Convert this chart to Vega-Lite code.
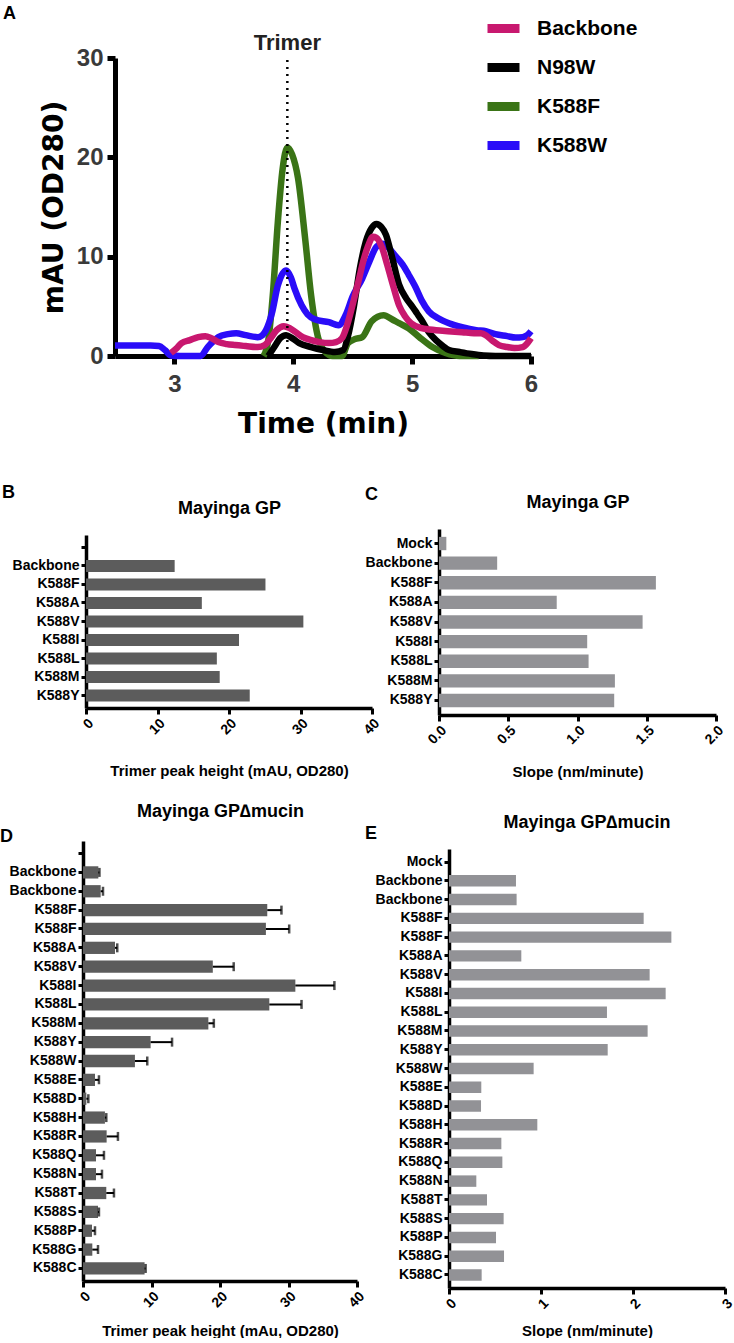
{
  "$schema": "https://vega.github.io/schema/vega-lite/v6.json",
  "background": "white",
  "padding": {"left": 0, "top": 4, "right": 0, "bottom": 0},
  "autosize": {"type": "pad", "resize": false},
  "config": {
    "font": "Liberation Sans",
    "view": {"stroke": null},
    "axis": {"grid": false, "domainColor": "black", "tickColor": "black", "labelColor": "black", "titleColor": "black", "labelFontWeight": "bold", "titleFontWeight": "bold", "labelFont": "Liberation Sans", "titleFont": "Liberation Sans", "labelOverlap": false},
    "title": {"font": "Liberation Sans", "fontWeight": "bold", "color": "black"},
    "legend": {"labelFont": "Liberation Sans"}
  },
  "datasets": {
    "chrom": [
      {"sample": "K588F", "t": 3.75, "v": 0}, {"sample": "K588F", "t": 3.79, "v": 1.6}, {"sample": "K588F", "t": 3.83, "v": 6.5}, {"sample": "K588F", "t": 3.87, "v": 13.5}, {"sample": "K588F", "t": 3.91, "v": 18.8}, {"sample": "K588F", "t": 3.95, "v": 21.0}, {"sample": "K588F", "t": 3.99, "v": 20.3}, {"sample": "K588F", "t": 4.04, "v": 17.9}, {"sample": "K588F", "t": 4.10, "v": 11.8}, {"sample": "K588F", "t": 4.15, "v": 6.1}, {"sample": "K588F", "t": 4.21, "v": 1.8}, {"sample": "K588F", "t": 4.27, "v": 0.4}, {"sample": "K588F", "t": 4.33, "v": 0}, {"sample": "K588F", "t": 4.41, "v": 0}, {"sample": "K588F", "t": 4.46, "v": 1.3}, {"sample": "K588F", "t": 4.52, "v": 1.7}, {"sample": "K588F", "t": 4.58, "v": 1.9}, {"sample": "K588F", "t": 4.66, "v": 3.5}, {"sample": "K588F", "t": 4.76, "v": 4.1}, {"sample": "K588F", "t": 4.83, "v": 3.7}, {"sample": "K588F", "t": 4.89, "v": 3.3}, {"sample": "K588F", "t": 4.97, "v": 2.8}, {"sample": "K588F", "t": 5.06, "v": 1.9}, {"sample": "K588F", "t": 5.17, "v": 0.9}, {"sample": "K588F", "t": 5.28, "v": 0.3}, {"sample": "K588F", "t": 5.4, "v": 0}, {"sample": "K588F", "t": 5.56, "v": 0},
      {"sample": "K588W", "t": 2.5, "v": 1.05}, {"sample": "K588W", "t": 2.6, "v": 1.05}, {"sample": "K588W", "t": 2.7, "v": 1.05}, {"sample": "K588W", "t": 2.8, "v": 1.05}, {"sample": "K588W", "t": 2.87, "v": 1.0}, {"sample": "K588W", "t": 2.92, "v": 0.6}, {"sample": "K588W", "t": 2.97, "v": 0.05}, {"sample": "K588W", "t": 3.05, "v": 0}, {"sample": "K588W", "t": 3.15, "v": 0}, {"sample": "K588W", "t": 3.22, "v": 0}, {"sample": "K588W", "t": 3.28, "v": 0.9}, {"sample": "K588W", "t": 3.37, "v": 1.9}, {"sample": "K588W", "t": 3.45, "v": 2.2}, {"sample": "K588W", "t": 3.52, "v": 2.3}, {"sample": "K588W", "t": 3.6, "v": 2.1}, {"sample": "K588W", "t": 3.7, "v": 1.9}, {"sample": "K588W", "t": 3.74, "v": 2.1}, {"sample": "K588W", "t": 3.77, "v": 2.6}, {"sample": "K588W", "t": 3.82, "v": 4.3}, {"sample": "K588W", "t": 3.87, "v": 7.1}, {"sample": "K588W", "t": 3.94, "v": 8.6}, {"sample": "K588W", "t": 3.98, "v": 7.9}, {"sample": "K588W", "t": 4.01, "v": 6.8}, {"sample": "K588W", "t": 4.07, "v": 5.1}, {"sample": "K588W", "t": 4.12, "v": 4.2}, {"sample": "K588W", "t": 4.18, "v": 3.7}, {"sample": "K588W", "t": 4.3, "v": 3.4}, {"sample": "K588W", "t": 4.38, "v": 3.1}, {"sample": "K588W", "t": 4.44, "v": 4.1}, {"sample": "K588W", "t": 4.5, "v": 6.0}, {"sample": "K588W", "t": 4.58, "v": 7.8}, {"sample": "K588W", "t": 4.64, "v": 9.5}, {"sample": "K588W", "t": 4.7, "v": 11.0}, {"sample": "K588W", "t": 4.75, "v": 11.3}, {"sample": "K588W", "t": 4.8, "v": 10.9}, {"sample": "K588W", "t": 4.85, "v": 10.2}, {"sample": "K588W", "t": 4.92, "v": 9.2}, {"sample": "K588W", "t": 4.97, "v": 8.2}, {"sample": "K588W", "t": 5.03, "v": 6.9}, {"sample": "K588W", "t": 5.08, "v": 5.6}, {"sample": "K588W", "t": 5.14, "v": 4.5}, {"sample": "K588W", "t": 5.22, "v": 3.8}, {"sample": "K588W", "t": 5.31, "v": 3.3}, {"sample": "K588W", "t": 5.42, "v": 2.9}, {"sample": "K588W", "t": 5.54, "v": 2.6}, {"sample": "K588W", "t": 5.62, "v": 2.5}, {"sample": "K588W", "t": 5.7, "v": 2.2}, {"sample": "K588W", "t": 5.8, "v": 2.0}, {"sample": "K588W", "t": 5.87, "v": 1.85}, {"sample": "K588W", "t": 5.93, "v": 1.9}, {"sample": "K588W", "t": 5.97, "v": 2.1}, {"sample": "K588W", "t": 6.0, "v": 2.5},
      {"sample": "N98W", "t": 3.79, "v": 0}, {"sample": "N98W", "t": 3.84, "v": 0.9}, {"sample": "N98W", "t": 3.89, "v": 1.8}, {"sample": "N98W", "t": 3.94, "v": 2.1}, {"sample": "N98W", "t": 3.99, "v": 1.8}, {"sample": "N98W", "t": 4.05, "v": 1.3}, {"sample": "N98W", "t": 4.15, "v": 0.9}, {"sample": "N98W", "t": 4.25, "v": 0.6}, {"sample": "N98W", "t": 4.35, "v": 0.4}, {"sample": "N98W", "t": 4.42, "v": 0.6}, {"sample": "N98W", "t": 4.46, "v": 2.0}, {"sample": "N98W", "t": 4.51, "v": 5.0}, {"sample": "N98W", "t": 4.56, "v": 8.8}, {"sample": "N98W", "t": 4.61, "v": 11.5}, {"sample": "N98W", "t": 4.66, "v": 12.9}, {"sample": "N98W", "t": 4.7, "v": 13.3}, {"sample": "N98W", "t": 4.74, "v": 13.0}, {"sample": "N98W", "t": 4.78, "v": 12.2}, {"sample": "N98W", "t": 4.83, "v": 10.0}, {"sample": "N98W", "t": 4.89, "v": 7.2}, {"sample": "N98W", "t": 4.95, "v": 5.8}, {"sample": "N98W", "t": 5.0, "v": 5.0}, {"sample": "N98W", "t": 5.04, "v": 4.3}, {"sample": "N98W", "t": 5.08, "v": 3.6}, {"sample": "N98W", "t": 5.14, "v": 2.4}, {"sample": "N98W", "t": 5.2, "v": 1.6}, {"sample": "N98W", "t": 5.26, "v": 1.0}, {"sample": "N98W", "t": 5.31, "v": 0.6}, {"sample": "N98W", "t": 5.4, "v": 0.4}, {"sample": "N98W", "t": 5.5, "v": 0.2}, {"sample": "N98W", "t": 5.6, "v": 0.05}, {"sample": "N98W", "t": 5.7, "v": 0}, {"sample": "N98W", "t": 5.85, "v": 0}, {"sample": "N98W", "t": 6.0, "v": 0},
      {"sample": "Backbone", "t": 2.97, "v": 0.3}, {"sample": "Backbone", "t": 3.02, "v": 0.8}, {"sample": "Backbone", "t": 3.06, "v": 1.3}, {"sample": "Backbone", "t": 3.13, "v": 1.6}, {"sample": "Backbone", "t": 3.2, "v": 1.9}, {"sample": "Backbone", "t": 3.26, "v": 2.0}, {"sample": "Backbone", "t": 3.31, "v": 1.8}, {"sample": "Backbone", "t": 3.37, "v": 1.4}, {"sample": "Backbone", "t": 3.44, "v": 1.2}, {"sample": "Backbone", "t": 3.51, "v": 1.1}, {"sample": "Backbone", "t": 3.6, "v": 1.0}, {"sample": "Backbone", "t": 3.7, "v": 0.9}, {"sample": "Backbone", "t": 3.76, "v": 1.1}, {"sample": "Backbone", "t": 3.81, "v": 1.8}, {"sample": "Backbone", "t": 3.86, "v": 2.6}, {"sample": "Backbone", "t": 3.92, "v": 3.0}, {"sample": "Backbone", "t": 3.97, "v": 2.8}, {"sample": "Backbone", "t": 4.02, "v": 2.4}, {"sample": "Backbone", "t": 4.08, "v": 1.9}, {"sample": "Backbone", "t": 4.15, "v": 1.6}, {"sample": "Backbone", "t": 4.22, "v": 1.4}, {"sample": "Backbone", "t": 4.3, "v": 1.3}, {"sample": "Backbone", "t": 4.36, "v": 1.4}, {"sample": "Backbone", "t": 4.41, "v": 1.8}, {"sample": "Backbone", "t": 4.45, "v": 3.0}, {"sample": "Backbone", "t": 4.5, "v": 5.2}, {"sample": "Backbone", "t": 4.55, "v": 7.6}, {"sample": "Backbone", "t": 4.59, "v": 9.6}, {"sample": "Backbone", "t": 4.63, "v": 11.1}, {"sample": "Backbone", "t": 4.67, "v": 12.0}, {"sample": "Backbone", "t": 4.7, "v": 11.9}, {"sample": "Backbone", "t": 4.75, "v": 10.8}, {"sample": "Backbone", "t": 4.79, "v": 9.2}, {"sample": "Backbone", "t": 4.83, "v": 7.5}, {"sample": "Backbone", "t": 4.89, "v": 5.1}, {"sample": "Backbone", "t": 4.94, "v": 4.0}, {"sample": "Backbone", "t": 4.99, "v": 3.3}, {"sample": "Backbone", "t": 5.08, "v": 2.8}, {"sample": "Backbone", "t": 5.2, "v": 2.6}, {"sample": "Backbone", "t": 5.3, "v": 2.5}, {"sample": "Backbone", "t": 5.42, "v": 2.4}, {"sample": "Backbone", "t": 5.52, "v": 2.3}, {"sample": "Backbone", "t": 5.58, "v": 2.3}, {"sample": "Backbone", "t": 5.63, "v": 2.0}, {"sample": "Backbone", "t": 5.68, "v": 1.5}, {"sample": "Backbone", "t": 5.73, "v": 1.1}, {"sample": "Backbone", "t": 5.8, "v": 0.9}, {"sample": "Backbone", "t": 5.86, "v": 0.8}, {"sample": "Backbone", "t": 5.93, "v": 0.9}, {"sample": "Backbone", "t": 5.97, "v": 1.3}, {"sample": "Backbone", "t": 6.0, "v": 1.8}
    ],
    "panelB": [
      {"id": "01|Backbone", "v": 12.4}, {"id": "02|K588F", "v": 25.1}, {"id": "03|K588A", "v": 16.2}, {"id": "04|K588V", "v": 30.4},
      {"id": "05|K588I", "v": 21.4}, {"id": "06|K588L", "v": 18.3}, {"id": "07|K588M", "v": 18.7}, {"id": "08|K588Y", "v": 22.9}
    ],
    "panelC": [
      {"id": "00|Mock", "v": 0.053}, {"id": "01|Backbone", "v": 0.42}, {"id": "02|K588F", "v": 1.566}, {"id": "03|K588A", "v": 0.85}, {"id": "04|K588V", "v": 1.47},
      {"id": "05|K588I", "v": 1.07}, {"id": "06|K588L", "v": 1.08}, {"id": "07|K588M", "v": 1.27}, {"id": "08|K588Y", "v": 1.265}
    ],
    "panelD": [
      {"id": "01|Backbone", "v": 2.24, "upper": 2.4}, {"id": "02|Backbone", "v": 2.58, "upper": 2.92}, {"id": "03|K588F", "v": 26.9, "upper": 28.97}, {"id": "04|K588F", "v": 26.7, "upper": 30.1},
      {"id": "05|K588A", "v": 4.67, "upper": 5.0}, {"id": "06|K588V", "v": 18.95, "upper": 22.0}, {"id": "07|K588I", "v": 31.0, "upper": 36.7}, {"id": "08|K588L", "v": 27.2, "upper": 31.9},
      {"id": "09|K588M", "v": 18.3, "upper": 19.1}, {"id": "10|K588Y", "v": 9.87, "upper": 13.0}, {"id": "11|K588W", "v": 7.58, "upper": 9.38}, {"id": "12|K588E", "v": 1.75, "upper": 2.33},
      {"id": "13|K588D", "v": 0.49, "upper": 0.78}, {"id": "14|K588H", "v": 3.2, "upper": 3.4}, {"id": "15|K588R", "v": 3.45, "upper": 5.1}, {"id": "16|K588Q", "v": 1.9, "upper": 3.06},
      {"id": "17|K588N", "v": 1.9, "upper": 2.77}, {"id": "18|K588T", "v": 3.4, "upper": 4.52}, {"id": "19|K588S", "v": 2.19, "upper": 2.33}, {"id": "20|K588P", "v": 1.31, "upper": 1.75},
      {"id": "21|K588G", "v": 1.36, "upper": 2.19}, {"id": "22|K588C", "v": 8.99, "upper": 9.14}
    ],
    "panelE": [
      {"id": "00|Mock", "v": 0}, {"id": "01|Backbone", "v": 0.728}, {"id": "02|Backbone", "v": 0.735}, {"id": "03|K588F", "v": 2.116}, {"id": "04|K588F", "v": 2.417},
      {"id": "05|K588A", "v": 0.786}, {"id": "06|K588V", "v": 2.181}, {"id": "07|K588I", "v": 2.355}, {"id": "08|K588L", "v": 1.717}, {"id": "09|K588M", "v": 2.159},
      {"id": "10|K588Y", "v": 1.725}, {"id": "11|K588W", "v": 0.92}, {"id": "12|K588E", "v": 0.351}, {"id": "13|K588D", "v": 0.348}, {"id": "14|K588H", "v": 0.96},
      {"id": "15|K588R", "v": 0.569}, {"id": "16|K588Q", "v": 0.58}, {"id": "17|K588N", "v": 0.297}, {"id": "18|K588T", "v": 0.413}, {"id": "19|K588S", "v": 0.594},
      {"id": "20|K588P", "v": 0.511}, {"id": "21|K588G", "v": 0.598}, {"id": "22|K588C", "v": 0.355}
    ]
  },
  "columns": 2,
  "bounds": "flush",
  "align": "each",
  "spacing": {"row": 126, "column": 67},
  "concat": [
    {
      "width": 286,
      "height": 298,
      "title": {"text": "A", "anchor": "start", "frame": "group", "dx": -80, "offset": -8.5, "baseline": "bottom", "fontSize": 18},
      "layer": [
        {
          "data": {"name": "chrom"},
          "mark": {"type": "line", "strokeWidth": 6.5, "interpolate": "monotone", "strokeJoin": "round"},
          "encoding": {
            "x": {"field": "t", "type": "quantitative",
              "scale": {"domain": [2.5, 6], "range": [32, 448], "nice": false, "zero": false},
              "axis": {"values": [3, 4, 5, 6], "format": "d", "title": "Time (min)", "titleFont": "DejaVu Sans", "titleFontSize": 28, "titlePadding": 14, "labelFontSize": 24, "labelColor": "#3a3a3a", "labelPadding": 8, "labelFlush": false, "domainWidth": 5, "tickWidth": 5, "tickSize": 8}},
            "y": {"field": "v", "type": "quantitative",
              "scale": {"domain": [0, 30], "nice": false},
              "axis": {"values": [0, 10, 20, 30], "format": "d", "title": "mAU  (OD280)", "offset": -32, "titleFont": "DejaVu Sans", "titleFontSize": 28, "titlePadding": 8, "labelFontSize": 24, "labelColor": "#3a3a3a", "labelPadding": 4, "domainWidth": 5, "tickWidth": 5, "tickSize": 8}},
            "color": {"field": "sample", "type": "nominal",
              "scale": {"domain": ["Backbone", "N98W", "K588F", "K588W"], "range": ["#c8186f", "#000000", "#3a7416", "#2a0cf8"]},
              "legend": {"title": null, "orient": "none", "legendX": 400, "legendY": -50, "symbolType": "stroke", "symbolStrokeWidth": 9, "symbolSize": 1024, "labelFontSize": 21, "labelFontWeight": "bold", "labelColor": "black", "labelOffset": 13, "rowPadding": 0, "padding": 0}}
          }
        },
        {
          "data": {"values": [{"t": 3.95, "lo": 0, "hi": 30}]},
          "mark": {"type": "rule", "strokeDash": [2, 5], "strokeWidth": 2.5, "color": "black"},
          "encoding": {"x": {"field": "t", "type": "quantitative"}, "y": {"field": "lo", "type": "quantitative"}, "y2": {"field": "hi"}}
        },
        {
          "data": {"values": [{"t": 3.95, "hi": 30, "label": "Trimer"}]},
          "mark": {"type": "text", "fontSize": 22, "fontWeight": "bold", "font": "Liberation Sans", "baseline": "alphabetic", "dy": -8, "color": "#222222"},
          "encoding": {"x": {"field": "t", "type": "quantitative"}, "y": {"field": "hi", "type": "quantitative"}, "text": {"field": "label"}}
        }
      ]
    },
    {
      "width": 277,
      "height": 345,
      "data": {"values": []},
      "mark": {"type": "rect", "opacity": 0}
    },
    {
      "width": 289,
      "height": 179,
      "data": {"name": "panelB"},
      "title": {"text": "B", "anchor": "start", "frame": "group", "dx": -81, "offset": -20.5, "baseline": "bottom", "fontSize": 18},
      "mark": {"type": "bar", "color": "#5c5c5c"},
      "encoding": {
        "y": {"field": "id", "type": "nominal",
          "scale": {"domain": ["00|", "01|Backbone", "02|K588F", "03|K588A", "04|K588V", "05|K588I", "06|K588L", "07|K588M", "08|K588Y"], "range": [6, 179], "paddingInner": 0.35, "paddingOuter": 0.35},
          "axis": {"labelExpr": "split(datum.value, '|')[1]", "offset": -3, "labelFontSize": 14, "labelPadding": 2, "tickSize": 5, "tickWidth": 3, "domainWidth": 3.5,
            "title": "Mayinga GP", "titleAngle": 0, "titleFontSize": 18, "titleAlign": "center", "titleBaseline": "alphabetic", "titleX": 143, "titleY": -16}},
        "x": {"field": "v", "type": "quantitative",
          "scale": {"domain": [0, 40], "range": [3, 289], "nice": false},
          "axis": {"values": [0, 10, 20, 30, 40], "labelAngle": -45, "labelFontSize": 14, "labelFlush": false, "labelPadding": 2, "tickSize": 6, "tickWidth": 3, "domainWidth": 3.5,
            "title": "Trimer peak height (mAU, OD280)", "titleFontSize": 15, "titleBaseline": "alphabetic", "titleY": 67}}
      }
    },
    {
      "width": 277,
      "height": 186,
      "data": {"name": "panelC"},
      "title": {"text": "C", "anchor": "start", "frame": "group", "dx": -74, "offset": -28.5, "baseline": "bottom", "fontSize": 18},
      "mark": {"type": "bar", "color": "#929296"},
      "encoding": {
        "y": {"field": "id", "type": "nominal",
          "scale": {"domain": ["00|Mock", "01|Backbone", "02|K588F", "03|K588A", "04|K588V", "05|K588I", "06|K588L", "07|K588M", "08|K588Y"], "paddingInner": 0.32, "paddingOuter": 0.4},
          "axis": {"labelExpr": "split(datum.value, '|')[1]", "labelFontSize": 14, "labelPadding": 2, "tickSize": 5, "tickWidth": 3, "domainWidth": 3.5,
            "title": "Mayinga GP", "titleAngle": 0, "titleFontSize": 18, "titleAlign": "center", "titleBaseline": "alphabetic", "titleX": 138.5, "titleY": -22}},
        "x": {"field": "v", "type": "quantitative",
          "scale": {"domain": [0, 2], "nice": false},
          "axis": {"values": [0, 0.5, 1, 1.5, 2], "format": ".1f", "labelAngle": -45, "labelFontSize": 14, "labelFlush": false, "labelPadding": 2, "tickSize": 6, "tickWidth": 3, "domainWidth": 3.5,
            "title": "Slope (nm/minute)", "titleFontSize": 15, "titleBaseline": "alphabetic", "titleY": 61}}
      }
    },
    {
      "width": 274,
      "height": 440,
      "data": {"name": "panelD"},
      "title": {"text": "D", "anchor": "start", "frame": "group", "dx": -83, "offset": -61.5, "baseline": "bottom", "fontSize": 18},
      "encoding": {
        "y": {"field": "id", "type": "nominal",
          "scale": {"domain": ["00|", "01|Backbone", "02|Backbone", "03|K588F", "04|K588F", "05|K588A", "06|K588V", "07|K588I", "08|K588L", "09|K588M", "10|K588Y", "11|K588W", "12|K588E", "13|K588D", "14|K588H", "15|K588R", "16|K588Q", "17|K588N", "18|K588T", "19|K588S", "20|K588P", "21|K588G", "22|K588C"], "paddingInner": 0.35, "paddingOuter": 0.34},
          "axis": {"labelExpr": "split(datum.value, '|')[1]", "labelFontSize": 14, "labelPadding": 2, "tickSize": 5, "tickWidth": 3, "domainWidth": 3.5,
            "title": "Mayinga GP∆mucin", "titleAngle": 0, "titleFontSize": 18, "titleAlign": "center", "titleBaseline": "alphabetic", "titleX": 137, "titleY": -25}}
      },
      "layer": [
        {
          "mark": {"type": "bar", "color": "#5c5c5c"},
          "encoding": {"x": {"field": "v", "type": "quantitative", "title": "Trimer peak height (mAu, OD280)",
            "scale": {"domain": [0, 40], "nice": false},
            "axis": {"values": [0, 10, 20, 30, 40], "labelAngle": -45, "labelFontSize": 14, "labelFlush": false, "labelPadding": 2, "tickSize": 6, "tickWidth": 3, "domainWidth": 3.5,
              "titleFontSize": 15, "titleBaseline": "alphabetic", "titleY": 54}}}
        },
        {
          "mark": {"type": "rule", "color": "black", "strokeWidth": 2},
          "encoding": {"x": {"field": "v", "type": "quantitative", "title": "Trimer peak height (mAu, OD280)"}, "x2": {"field": "upper"}}
        },
        {
          "mark": {"type": "tick", "color": "black", "thickness": 2.5, "size": 9},
          "encoding": {"x": {"field": "upper", "type": "quantitative", "title": "Trimer peak height (mAu, OD280)"}}
        }
      ]
    },
    {
      "width": 286,
      "height": 447,
      "data": {"name": "panelE"},
      "title": {"text": "E", "anchor": "start", "frame": "group", "dx": -74, "offset": -47.5, "baseline": "bottom", "fontSize": 18},
      "mark": {"type": "bar", "color": "#929296"},
      "encoding": {
        "y": {"field": "id", "type": "nominal",
          "scale": {"domain": ["00|Mock", "01|Backbone", "02|Backbone", "03|K588F", "04|K588F", "05|K588A", "06|K588V", "07|K588I", "08|K588L", "09|K588M", "10|K588Y", "11|K588W", "12|K588E", "13|K588D", "14|K588H", "15|K588R", "16|K588Q", "17|K588N", "18|K588T", "19|K588S", "20|K588P", "21|K588G", "22|K588C"], "range": [8, 447], "paddingInner": 0.39, "paddingOuter": 0.39},
          "axis": {"labelExpr": "split(datum.value, '|')[1]", "offset": -10, "labelFontSize": 14, "labelPadding": 2, "tickSize": 5, "tickWidth": 3, "domainWidth": 3.5,
            "title": "Mayinga GP∆mucin", "titleAngle": 0, "titleFontSize": 18, "titleAlign": "center", "titleBaseline": "alphabetic", "titleX": 137.5, "titleY": -14}},
        "x": {"field": "v", "type": "quantitative",
          "scale": {"domain": [0, 3], "range": [10, 286], "nice": false},
          "axis": {"values": [0, 1, 2, 3], "labelAngle": -45, "labelFontSize": 14, "labelFlush": false, "labelPadding": 2, "tickSize": 6, "tickWidth": 3, "domainWidth": 3.5,
            "title": "Slope (nm/minute)", "titleFontSize": 15, "titleBaseline": "alphabetic", "titleY": 47}}
      }
    }
  ]
}
